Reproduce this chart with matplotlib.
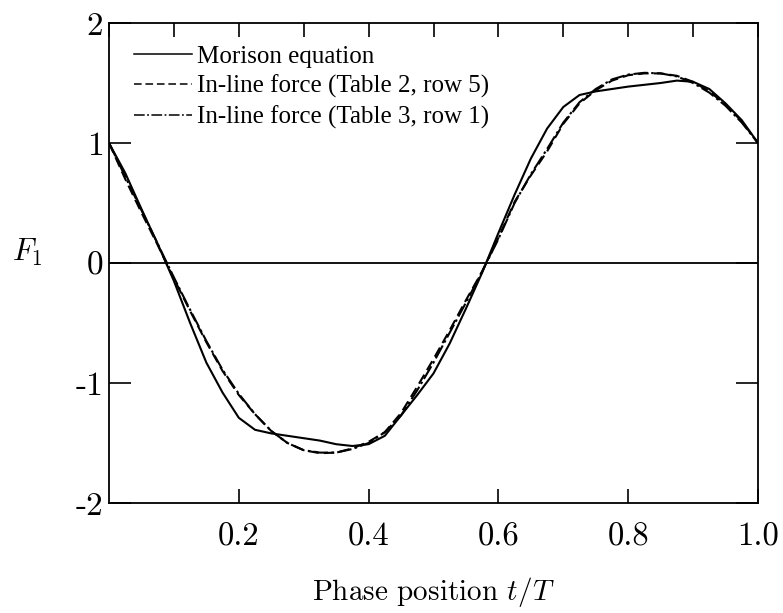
import matplotlib
matplotlib.use("Agg")
import matplotlib.pyplot as plt
from matplotlib.ticker import MultipleLocator, FixedLocator

# Phase position t/T
phase = [0.000, 0.025, 0.050, 0.075, 0.100, 0.125, 0.150, 0.175, 0.200, 0.225,
         0.250, 0.275, 0.300, 0.325, 0.350, 0.375, 0.400, 0.425, 0.450, 0.475,
         0.500, 0.525, 0.550, 0.575, 0.600, 0.625, 0.650, 0.675, 0.700, 0.725,
         0.750, 0.775, 0.800, 0.825, 0.850, 0.875, 0.900, 0.925, 0.950, 0.975,
         1.000]

# Morison equation
morison = [1.00, 0.75, 0.45, 0.16, -0.15, -0.50, -0.83, -1.08, -1.29, -1.39,
           -1.42, -1.44, -1.46, -1.48, -1.51, -1.525, -1.51, -1.44, -1.27, -1.10,
           -0.92, -0.67, -0.38, -0.08, 0.25, 0.57, 0.87, 1.12, 1.30, 1.40,
           1.43, 1.45, 1.47, 1.485, 1.50, 1.52, 1.51, 1.45, 1.33, 1.19,
           1.00]

# In-line force, Table 2 row 5
table2_row5 = [1.00, 0.70, 0.42, 0.15, -0.13, -0.40, -0.66, -0.90, -1.10, -1.26,
               -1.40, -1.50, -1.56, -1.585, -1.58, -1.545, -1.49, -1.41, -1.25, -1.03,
               -0.80, -0.56, -0.31, -0.07, 0.21, 0.51, 0.73, 0.93, 1.16, 1.33,
               1.44, 1.52, 1.565, 1.58, 1.58, 1.56, 1.51, 1.43, 1.32, 1.18,
               1.00]

# In-line force, Table 3 row 1
table3_row1 = [1.00, 0.72, 0.44, 0.16, -0.12, -0.39, -0.65, -0.89, -1.09, -1.26,
               -1.40, -1.50, -1.56, -1.58, -1.58, -1.55, -1.50, -1.41, -1.27, -1.06,
               -0.83, -0.58, -0.33, -0.07, 0.20, 0.50, 0.74, 0.95, 1.17, 1.34,
               1.45, 1.53, 1.57, 1.585, 1.58, 1.555, 1.50, 1.42, 1.31, 1.17,
               1.00]

xticks = [0.2, 0.4, 0.6, 0.8, 1.0]
xticklabels = ["0.2", "0.4", "0.6", "0.8", "1.0"]
yticks = [-2, -1, 0, 1, 2]
yticklabels = ["-2", "-1", "0", "1", "2"]

labels = ["Morison equation",
          "In-line force (Table 2, row 5)",
          "In-line force (Table 3, row 1)"]

plt.rcParams["mathtext.fontset"] = "cm"
plt.rcParams["axes.unicode_minus"] = False

W, H = 783, 613
fig = plt.figure(figsize=(W / 100, H / 100), dpi=100)
ax = fig.add_axes([109 / W, 1 - 503 / H, (758 - 109) / W, (503 - 23) / H])

lw = 1.5
ax.axhline(0, color="black", lw=1.3, zorder=1)
ax.plot(phase, morison, color="black", lw=lw, label=labels[0])
ax.plot(phase, table2_row5, color="black", lw=lw, dashes=[5, 2.5], label=labels[1])
ax.plot(phase, table3_row1, color="black", lw=lw, dashes=[7, 1.6, 1.2, 1.6], label=labels[2])

ax.set_xlim(0, 1)
ax.set_ylim(-2, 2)

for s in ax.spines.values():
    s.set_linewidth(1.3)

ax.xaxis.set_major_locator(FixedLocator(xticks))
ax.set_xticklabels(xticklabels, fontfamily="cmr10", fontsize=23.5)
ax.xaxis.set_minor_locator(MultipleLocator(0.1))
ax.yaxis.set_major_locator(FixedLocator(yticks))
ax.set_yticklabels(yticklabels, fontfamily="cmr10", fontsize=24)

ax.tick_params(axis="x", which="major", direction="in", length=10, width=1.2,
               top=True, bottom=True, pad=14)
ax.tick_params(axis="x", which="minor", direction="in", length=10, width=1.2,
               top=True, bottom=False)
ax.tick_params(axis="y", which="major", direction="in", length=16, width=1.2,
               left=True, right=True, pad=4)

ax.set_xlabel("Phase position $t/T$", fontfamily="cmr10", fontsize=21, labelpad=17)
fig.text(27 / W, 1 - 252 / H, "$F_1$", fontsize=22, ha="center", va="center")

leg = ax.legend(loc="upper left", bbox_to_anchor=(134 / W, 1 - 45 / H),
                bbox_transform=fig.transFigure, frameon=False,
                prop={"family": "Liberation Serif", "size": 18},
                handlelength=2.3, handletextpad=0.22, labelspacing=0.3,
                borderpad=0, borderaxespad=0)
for line in leg.get_lines():
    line.set_linewidth(1.1)

fig.savefig("out.png", dpi=100)
